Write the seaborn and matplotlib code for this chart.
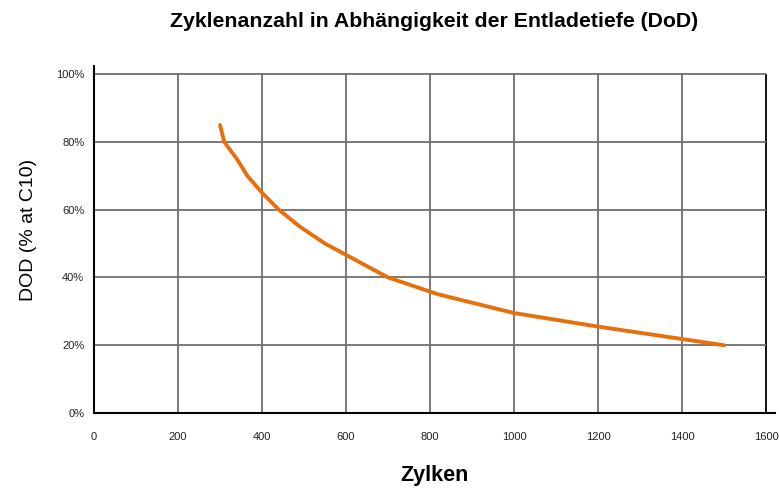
import pandas as pd
import matplotlib.pyplot as plt
import seaborn as sns
import numpy as np

# Values
zyklen = [300, 310, 340, 365, 400, 440, 490, 550, 610, 700, 820, 1000, 1200, 1500]
dod = [85, 80, 75, 70, 65, 60, 55, 50, 46, 40, 35, 29.5, 25.5, 20]
x_ticks = [0, 200, 400, 600, 800, 1000, 1200, 1400, 1600]
y_ticks = [0, 20, 40, 60, 80, 100]

df = pd.DataFrame({'Zylken': zyklen, 'DOD': dod})

sns.set_style('white')
plt.rcParams['font.family'] = ['Liberation Sans', 'DejaVu Sans']
plt.rcParams['text.color'] = 'black'
plt.rcParams['axes.labelcolor'] = 'black'

fig = plt.figure(figsize=(7.79, 4.94), dpi=100)
ax = fig.add_axes([0.1207, 0.164, 0.874, 0.703])

# grid lines bounded by the 0..100% range like the original
grid_col = '#6e6e6e'
for t in x_ticks[1:]:
    ax.vlines(t, 0, y_ticks[-1], color='black' if t == x_ticks[-1] else grid_col,
              linewidth=1.3, zorder=1)
ax.hlines(y_ticks[1:], 0, x_ticks[-1], color=grid_col, linewidth=1.3, zorder=1)

sns.lineplot(data=df, x='Zylken', y='DOD', color='#E8700C', linewidth=2.8, ax=ax, zorder=3)

ax.set_xlim(0, 1621)
ax.set_ylim(0, 102.5)
ax.set_xticks(x_ticks)
ax.set_yticks(y_ticks)
ax.set_xticklabels([str(t) for t in x_ticks], fontsize=8, color='#222222')
ax.set_yticklabels([f'{t}%' for t in y_ticks], fontsize=8, color='#222222')
ax.grid(False)

for side in ['top', 'right']:
    ax.spines[side].set_visible(False)
for side in ['left', 'bottom']:
    ax.spines[side].set_color('black')
    ax.spines[side].set_linewidth(1.5)

ax.tick_params(axis='y', direction='out', length=5, width=1, color='black', pad=2)
ax.tick_params(axis='x', direction='out', length=0, pad=14)

ax.set_title('Zyklenanzahl in Abhängigkeit der Entladetiefe (DoD)',
             fontsize=15.3, fontweight='bold', pad=28, color='black')
ax.set_xlabel('Zylken', fontsize=15.5, fontweight='bold', labelpad=16)
ax.set_ylabel('DOD (% at C10)', fontsize=14)
ax.yaxis.set_label_coords(-0.084, 0.527)

fig.savefig('out.png', dpi=100)
